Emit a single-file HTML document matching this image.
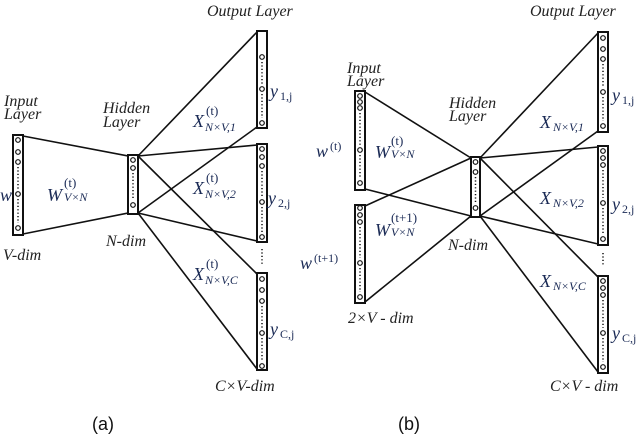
<!DOCTYPE html>
<html><head><meta charset="utf-8"><style>
html,body{margin:0;padding:0;background:#fff;}
svg{display:block}
.s{font-family:"Liberation Serif",serif;font-style:italic;fill:#222}
.m{font-family:"Liberation Serif",serif;font-style:italic;fill:#1a2a55}
.c{font-family:"Liberation Sans",sans-serif;fill:#111}
</style></head><body>
<svg width="640" height="435" viewBox="0 0 640 435" xmlns="http://www.w3.org/2000/svg">
<g stroke="#111" stroke-width="1.6" fill="none">
<line x1="23" y1="136" x2="128" y2="156"/>
<line x1="23" y1="234" x2="128" y2="213"/>
<line x1="138" y1="156" x2="257" y2="32"/>
<line x1="138" y1="156" x2="257" y2="145"/>
<line x1="138" y1="156" x2="257" y2="274"/>
<line x1="138" y1="213" x2="257" y2="127"/>
<line x1="138" y1="213" x2="257" y2="241"/>
<line x1="138" y1="213" x2="257" y2="369"/>
<line x1="365" y1="92" x2="471" y2="158"/>
<line x1="365" y1="189" x2="471" y2="216"/>
<line x1="365" y1="206" x2="471" y2="158"/>
<line x1="365" y1="302" x2="471" y2="216"/>
<line x1="480" y1="158" x2="598" y2="33"/>
<line x1="480" y1="158" x2="598" y2="147"/>
<line x1="480" y1="158" x2="598" y2="277"/>
<line x1="480" y1="216" x2="598" y2="131"/>
<line x1="480" y1="216" x2="598" y2="244"/>
<line x1="480" y1="216" x2="598" y2="372"/>
</g>
<g stroke="#111" stroke-width="2" fill="#fff">
<rect x="13" y="135" width="10" height="100"/>
<rect x="128" y="155" width="10" height="59"/>
<rect x="257" y="31" width="10" height="97"/>
<rect x="257" y="144" width="10" height="98"/>
<rect x="257" y="273" width="10" height="97"/>
<rect x="355" y="91" width="10" height="99"/>
<rect x="355" y="205" width="10" height="98"/>
<rect x="471" y="157" width="9" height="60"/>
<rect x="598" y="32" width="10" height="100"/>
<rect x="598" y="146" width="10" height="99"/>
<rect x="598" y="276" width="10" height="97"/>
</g>
<g stroke="#111" stroke-width="1.2" fill="#fff">
<circle cx="18" cy="140" r="2.3"/><circle cx="18" cy="152" r="2.3"/><circle cx="18" cy="162" r="2.3"/><circle cx="18" cy="194" r="2.3"/><circle cx="18" cy="228" r="2.3"/>
<circle cx="133" cy="160" r="2.3"/><circle cx="133" cy="168" r="2.3"/><circle cx="133" cy="205" r="2.3"/>
<circle cx="262" cy="57" r="2.3"/><circle cx="262" cy="89" r="2.3"/><circle cx="262" cy="123" r="2.3"/>
<circle cx="262" cy="149" r="2.3"/><circle cx="262" cy="157" r="2.3"/><circle cx="262" cy="166" r="2.3"/><circle cx="262" cy="202" r="2.3"/><circle cx="262" cy="237" r="2.3"/>
<circle cx="262" cy="279" r="2.3"/><circle cx="262" cy="290" r="2.3"/><circle cx="262" cy="301" r="2.3"/><circle cx="262" cy="333" r="2.3"/><circle cx="262" cy="366" r="2.3"/>
<circle cx="360" cy="96" r="2.3"/><circle cx="360" cy="102" r="2.3"/><circle cx="360" cy="108" r="2.3"/><circle cx="360" cy="150" r="2.3"/><circle cx="360" cy="183" r="2.3"/>
<circle cx="360" cy="208" r="2.3"/><circle cx="360" cy="215" r="2.3"/><circle cx="360" cy="222" r="2.3"/><circle cx="360" cy="263" r="2.3"/><circle cx="360" cy="297" r="2.3"/>
<circle cx="475.5" cy="162" r="2.3"/><circle cx="475.5" cy="172" r="2.3"/><circle cx="475.5" cy="208" r="2.3"/>
<circle cx="603" cy="38" r="2.3"/><circle cx="603" cy="49" r="2.3"/><circle cx="603" cy="59" r="2.3"/><circle cx="603" cy="92" r="2.3"/><circle cx="603" cy="126" r="2.3"/>
<circle cx="603" cy="151" r="2.3"/><circle cx="603" cy="158" r="2.3"/><circle cx="603" cy="165" r="2.3"/><circle cx="603" cy="203" r="2.3"/><circle cx="603" cy="239" r="2.3"/>
<circle cx="603" cy="281" r="2.3"/><circle cx="603" cy="288" r="2.3"/><circle cx="603" cy="295" r="2.3"/><circle cx="603" cy="333" r="2.3"/><circle cx="603" cy="367" r="2.3"/>
</g>
<g stroke="#111" stroke-width="1.5" stroke-dasharray="1.2,2.2">
<line x1="18" y1="167" x2="18" y2="189"/><line x1="18" y1="199" x2="18" y2="223"/>
<line x1="133" y1="173" x2="133" y2="200"/>
<line x1="262" y1="62" x2="262" y2="84"/><line x1="262" y1="94" x2="262" y2="118"/>
<line x1="262" y1="171" x2="262" y2="197"/><line x1="262" y1="207" x2="262" y2="232"/>
<line x1="262" y1="306" x2="262" y2="328"/><line x1="262" y1="338" x2="262" y2="361"/>
<line x1="262" y1="249" x2="262" y2="264"/>
<line x1="360" y1="113" x2="360" y2="145"/><line x1="360" y1="155" x2="360" y2="178"/>
<line x1="360" y1="227" x2="360" y2="258"/><line x1="360" y1="268" x2="360" y2="292"/>
<line x1="475.5" y1="177" x2="475.5" y2="203"/>
<line x1="603" y1="64" x2="603" y2="87"/><line x1="603" y1="97" x2="603" y2="121"/>
<line x1="603" y1="170" x2="603" y2="198"/><line x1="603" y1="208" x2="603" y2="234"/>
<line x1="603" y1="300" x2="603" y2="328"/><line x1="603" y1="338" x2="603" y2="362"/>
<line x1="603" y1="253" x2="603" y2="266"/>
</g>
<g class="s" font-size="16">
<text x="4" y="106">Input</text><text x="4" y="119">Layer</text>
<text x="103" y="113">Hidden</text><text x="103" y="127">Layer</text>
<text x="207" y="16">Output Layer</text>
<text x="3" y="260">V-dim</text>
<text x="106" y="246">N-dim</text>
<text x="215" y="391">C×V-dim</text>
<text x="347" y="73">Input</text><text x="347" y="86">Layer</text>
<text x="449" y="108">Hidden</text><text x="449" y="121">Layer</text>
<text x="530" y="16">Output Layer</text>
<text x="448" y="250">N-dim</text>
<text x="348" y="323">2×V - dim</text>
<text x="550" y="391">C×V - dim</text>
</g>
<g class="m" font-size="18">
<text x="0" y="201">w</text>
<text x="47" y="201">W</text><text x="64" y="187" font-size="13" font-style="normal">(t)</text><text x="64" y="201" font-size="12">V×N</text>
<text x="193" y="127">X</text><text x="206" y="115" font-size="13" font-style="normal">(t)</text><text x="205" y="131" font-size="12">N×V,1</text>
<text x="193" y="194">X</text><text x="206" y="182" font-size="13" font-style="normal">(t)</text><text x="205" y="198" font-size="12">N×V,2</text>
<text x="193" y="280">X</text><text x="206" y="268" font-size="13" font-style="normal">(t)</text><text x="205" y="284" font-size="12">N×V,C</text>
<text x="270" y="97">y</text><text x="280" y="100" font-size="12" font-style="normal">1,j</text>
<text x="268" y="204">y</text><text x="278" y="207" font-size="12" font-style="normal">2,j</text>
<text x="270" y="335">y</text><text x="280" y="338" font-size="12" font-style="normal">C,j</text>
<text x="316" y="157">w</text><text x="330" y="150" font-size="12" font-style="normal">(t)</text>
<text x="300" y="269">w</text><text x="314" y="262" font-size="12" font-style="normal">(t+1)</text>
<text x="375" y="158">W</text><text x="391" y="145" font-size="13" font-style="normal">(t)</text><text x="391" y="158" font-size="12">V×N</text>
<text x="375" y="236">W</text><text x="391" y="222" font-size="13" font-style="normal">(t+1)</text><text x="391" y="236" font-size="12">V×N</text>
<text x="540" y="128">X</text><text x="553" y="131" font-size="12">N×V,1</text>
<text x="540" y="204">X</text><text x="553" y="207" font-size="12">N×V,2</text>
<text x="540" y="287">X</text><text x="553" y="290" font-size="12">N×V,C</text>
<text x="612" y="101">y</text><text x="622" y="104" font-size="12" font-style="normal">1,j</text>
<text x="612" y="210">y</text><text x="622" y="213" font-size="12" font-style="normal">2,j</text>
<text x="612" y="339">y</text><text x="622" y="342" font-size="12" font-style="normal">C,j</text>
</g>
<text class="c" x="92" y="430" font-size="18">(a)</text>
<text class="c" x="398" y="430" font-size="18">(b)</text>
</svg>
</body></html>
